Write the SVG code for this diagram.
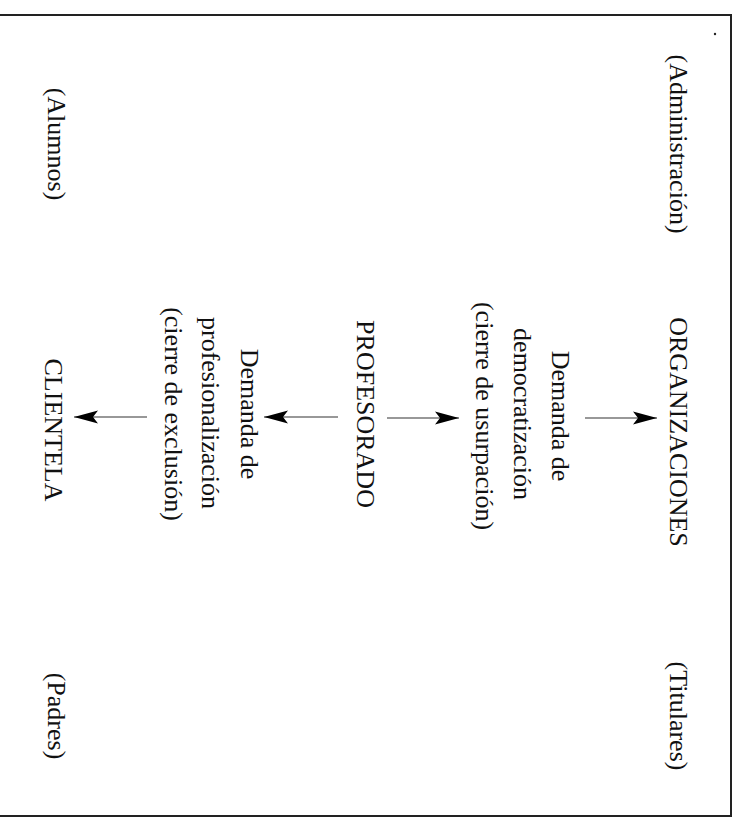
<svg xmlns="http://www.w3.org/2000/svg" width="739" height="825" viewBox="0 0 739 825">
  <style>
    .t { font-family: "Liberation Serif", "Times New Roman", serif; font-size: 26px; fill: #111; text-anchor: middle; }
    .frame { stroke: #222; stroke-width: 2; fill: none; }
    .conn { stroke: #333; stroke-width: 1.2; fill: none; marker-end: url(#ah); }
  </style>
  <defs>
    <marker id="ah" markerUnits="userSpaceOnUse" markerWidth="26" markerHeight="16" refX="24" refY="8" orient="auto">
      <path d="M0,1.5 L24,8 L0,14.5 L5,8 Z" fill="#000"/>
    </marker>
  </defs>
  <rect width="739" height="825" fill="#fff"/>

  <g id="frame">
    <path class="frame" d="M0,15 H731 V816 H0"/>
    <circle cx="715" cy="34" r="1.2" fill="#222"/>
  </g>

  <g id="n-administracion"><text class="t" transform="translate(670,144) rotate(90)">(Administración)</text></g>
  <g id="n-titulares"><text class="t" transform="translate(670,716) rotate(90)">(Titulares)</text></g>
  <g id="n-organizaciones"><text class="t" transform="translate(670,432) rotate(90)">ORGANIZACIONES</text></g>

  <g id="l-democratizacion">
    <text class="t" transform="translate(552,416) rotate(90)">Demanda de</text>
    <text class="t" transform="translate(514,414) rotate(90)">democratización</text>
    <text class="t" transform="translate(476,416) rotate(90)">(cierre de usurpación)</text>
  </g>

  <g id="n-profesorado"><text class="t" transform="translate(357,414) rotate(90)">PROFESORADO</text></g>

  <g id="l-profesionalizacion">
    <text class="t" transform="translate(241,414) rotate(90)">Demanda de</text>
    <text class="t" transform="translate(202,413) rotate(90)">profesionalización</text>
    <text class="t" transform="translate(165,414) rotate(90)">(cierre de exclusión)</text>
  </g>

  <g id="n-clientela"><text class="t" transform="translate(45,430) rotate(90)">CLIENTELA</text></g>
  <g id="n-alumnos"><text class="t" transform="translate(48,144) rotate(90)">(Alumnos)</text></g>
  <g id="n-padres"><text class="t" transform="translate(48,716) rotate(90)">(Padres)</text></g>

  <g id="connectors">
    <line class="conn" x1="585" y1="418" x2="657" y2="418"/>
    <line class="conn" x1="387" y1="418" x2="459" y2="418"/>
    <line class="conn" x1="338" y1="417" x2="264" y2="417"/>
    <line class="conn" x1="147" y1="417" x2="74" y2="417"/>
  </g>
</svg>
